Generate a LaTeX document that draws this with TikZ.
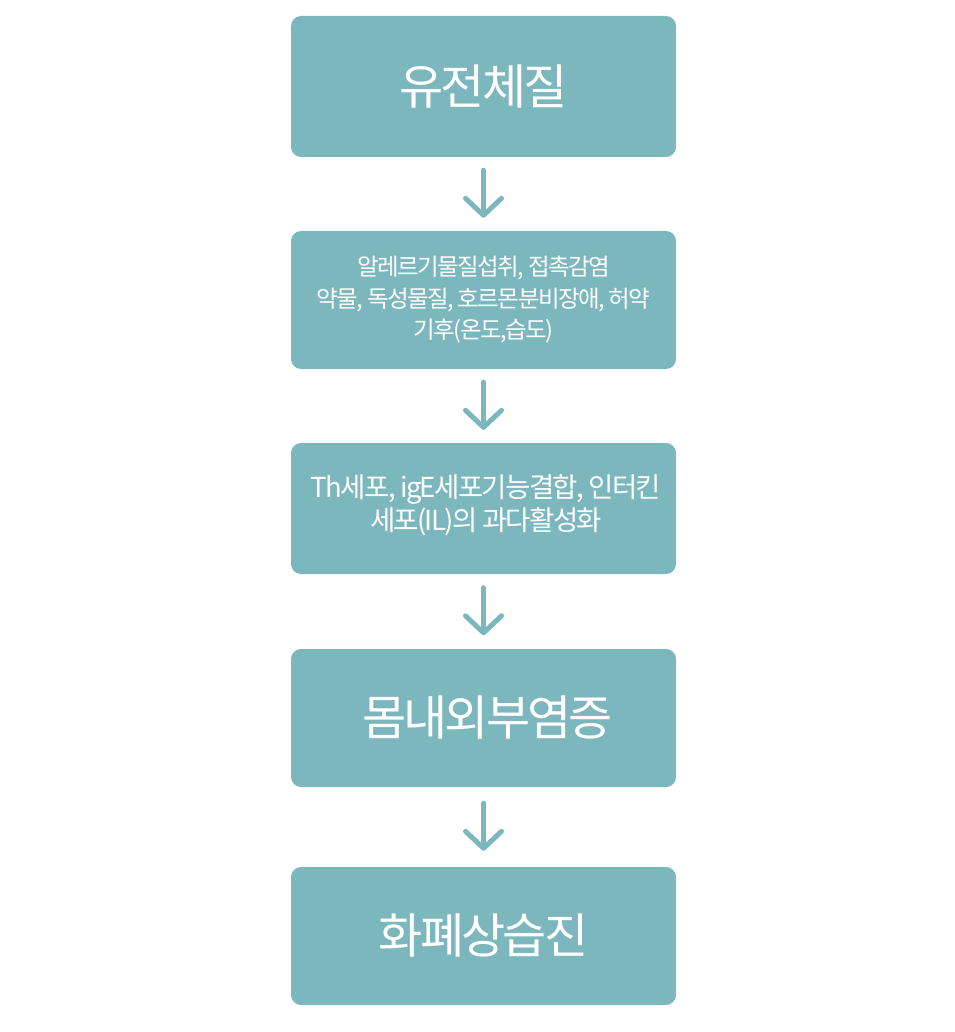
\documentclass[tikz,border=0pt]{standalone}
\usepackage{fontspec}
\usetikzlibrary{arrows.meta}
\newfontfamily\krfont[LetterSpace=-6]{Noto Sans CJK KR}
\newfontfamily\krsmall[LetterSpace=-6.5]{Noto Sans CJK KR}
\definecolor{teal1}{RGB}{125,183,190}
\tikzset{
  box/.style={fill=teal1, rounded corners=10pt, minimum width=385pt, text=white, align=center, inner sep=0pt},
  bigtxt/.style={font=\krfont\fontsize{48}{52}\selectfont},
  smalltxt/.style={font=\krsmall\fontsize{23.5}{31.5}\selectfont},
  midtxt/.style={font=\krfont\fontsize{27.5}{33}\selectfont},
  arr/.style={draw=teal1, line width=5pt, line cap=round, -{Straight Barb[length=17pt, width=36pt, round]}}
}
\begin{document}
\begin{tikzpicture}[x=1pt, y=-1pt]
\useasboundingbox (0,0) rectangle (954,1032);
\node[box, bigtxt, minimum height=141pt] (b1) at (483.5,86.5) {유전체질};
\node[box, smalltxt, minimum height=138pt] (b2) at (483.5,300) {알레르기물질섭취, 접촉감염\\약물, 독성물질, 호르몬분비장애, 허약\\기후(온도,습도)};
\node[box, minimum height=131pt] (b3) at (483.5,508.5) {};
\node[midtxt, text=white, align=center] (t3) at (486,505) {Th세포, igE세포기능결합, 인터킨\\세포(IL)의 과다활성화};
\node[box, minimum height=138pt] (b4) at (483.5,718) {};
\node[bigtxt, text=white] (t4) at (487.5,718) {몸내외부염증};
\node[box, bigtxt, minimum height=138pt] (b5) at (483.5,936) {화폐상습진};
\draw[arr, shorten <=13pt, shorten >=13pt] (b1.south) -- (b2.north);
\draw[arr, shorten <=13pt, shorten >=13pt] (b2.south) -- (b3.north);
\draw[arr, shorten <=13.5pt, shorten >=13.5pt] (b3.south) -- (b4.north);
\draw[arr, shorten <=16pt, shorten >=16pt] (b4.south) -- (b5.north);
\end{tikzpicture}
\end{document}
